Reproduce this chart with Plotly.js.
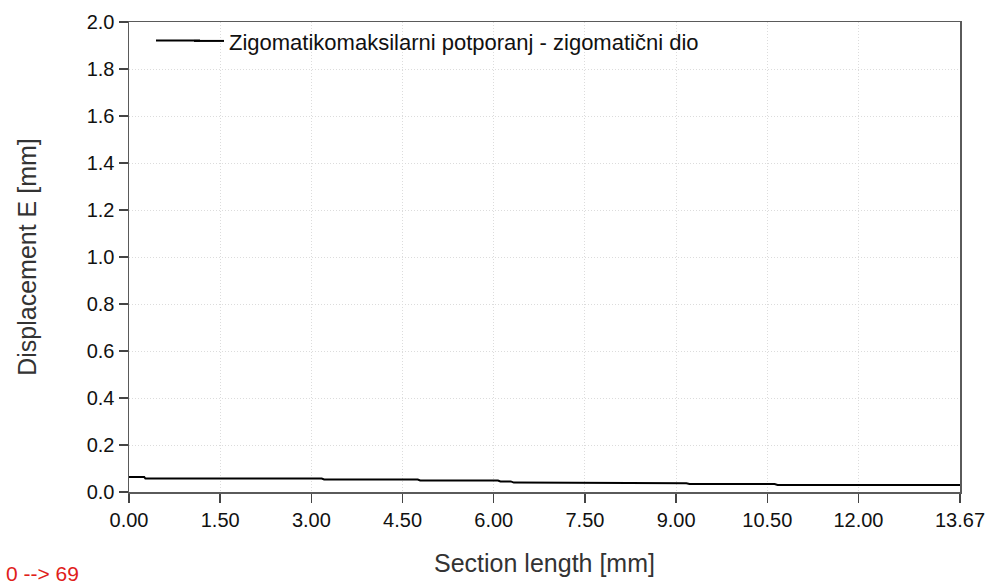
<!DOCTYPE html>
<html>
<head>
<meta charset="utf-8">
<script src="https://cdn.plot.ly/plotly-3.0.1.min.js"></script>
<style>html,body{margin:0;padding:0;background:#fff;}#chart{width:992px;height:584px;}</style>
</head>
<body>
<div id="chart"></div>
<script>
// Data
const seriesName = "Zigomatikomaksilarni potporanj - zigomatični dio";
const sectionLength = [0, 0.25, 0.27, 3.17, 3.21, 4.75, 4.79, 6.07, 6.11, 6.28, 6.33, 8.96, 9.00, 9.17, 9.22, 10.62, 10.67, 13.67];
const displacement = [0.064, 0.064, 0.057, 0.057, 0.053, 0.053, 0.049, 0.049, 0.045, 0.045, 0.040, 0.040, 0.037, 0.037, 0.034, 0.034, 0.030, 0.030];
const xTickVals = [0, 1.5, 3, 4.5, 6, 7.5, 9, 10.5, 12, 13.67];
const xTickText = ["0.00", "1.50", "3.00", "4.50", "6.00", "7.50", "9.00", "10.50", "12.00", "13.67"];
const yTickVals = [0, 0.2, 0.4, 0.6, 0.8, 1.0, 1.2, 1.4, 1.6, 1.8, 2.0];
const cornerLabel = "0 --> 69";

const font = "Liberation Sans, Arial, sans-serif";

const trace = {
  x: sectionLength,
  y: displacement,
  type: "scatter",
  mode: "lines",
  name: seriesName,
  line: {color: "#000000", width: 2}
};

const axisCommon = {
  showline: true,
  mirror: true,
  linecolor: "#5a5a5a",
  linewidth: 1.5,
  ticks: "outside",
  ticklen: 9,
  tickcolor: "#444444",
  tickwidth: 1.5,
  showgrid: true,
  gridcolor: "#dcdcdc",
  griddash: "1px,2px",
  gridwidth: 1,
  zeroline: false,
  tickfont: {family: font, size: 20, color: "#111111"}
};

const layout = {
  width: 992,
  height: 584,
  margin: {l: 129, r: 32, t: 22, b: 92},
  paper_bgcolor: "#ffffff",
  plot_bgcolor: "#ffffff",
  font: {family: font, color: "#222222"},
  showlegend: true,
  legend: {
    x: 0.0722, y: 1.004, xanchor: "left", yanchor: "top",
    bgcolor: "rgba(255,255,255,0)",
    borderwidth: 0,
    font: {family: font, size: 22, color: "#111111"}
  },
  shapes: [{
    // extends the legend's line sample to the reference's longer sample
    type: "line", xref: "paper", yref: "paper",
    x0: (156 - 129) / 831, x1: (200 - 129) / 831,
    y0: (492 - 40.5) / 470, y1: (492 - 40.5) / 470,
    line: {color: "#000000", width: 2}
  }],
  xaxis: Object.assign({}, axisCommon, {
    range: [0, 13.67],
    tickmode: "array",
    tickvals: xTickVals,
    ticktext: xTickText,
    title: {text: "Section length [mm]", font: {family: font, size: 25, color: "#333333"}, standoff: 25}
  }),
  yaxis: Object.assign({}, axisCommon, {
    range: [0, 2.0],
    tickmode: "array",
    tickvals: yTickVals,
    tickformat: ".1f",
    title: {text: "Displacement E [mm]", font: {family: font, size: 25, color: "#333333"}, standoff: 43}
  }),
  annotations: [{
    text: cornerLabel,
    xref: "paper", yref: "paper",
    x: (4 - 129) / 831, y: (492 - 573) / 470,
    xanchor: "left", yanchor: "middle",
    showarrow: false,
    font: {family: font, size: 21, color: "#e0201a"}
  }]
};

Plotly.newPlot("chart", [trace], layout, {displayModeBar: false, staticPlot: true});
</script>
</body>
</html>
